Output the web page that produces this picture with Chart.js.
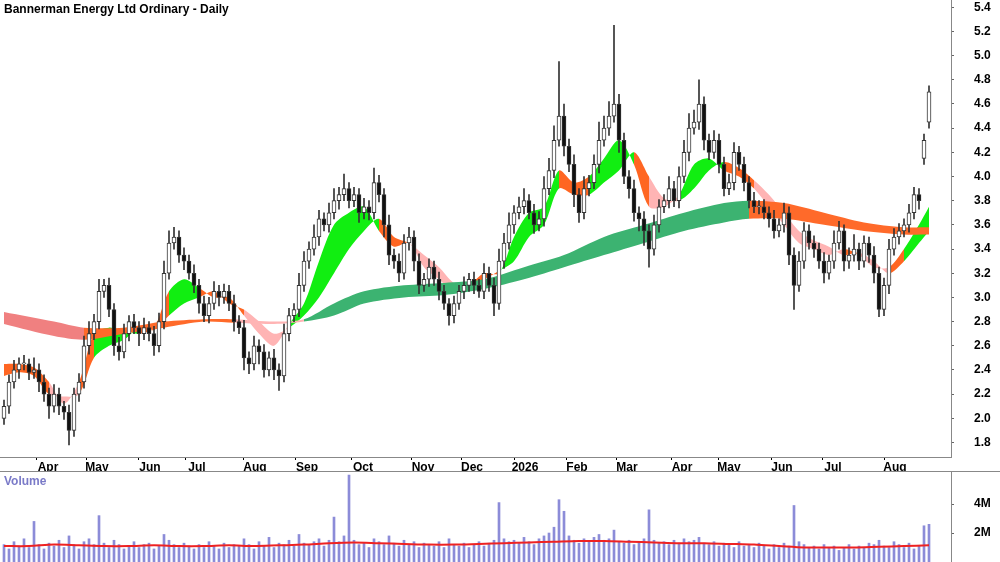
<!DOCTYPE html>
<html><head><meta charset="utf-8">
<script src="https://cdn.jsdelivr.net/npm/chart.js@4.4.1/dist/chart.umd.min.js"></script>
<style>
body{margin:0;background:#fff;width:1000px;height:562px;overflow:hidden;position:relative;font-family:Arial,"Liberation Sans",sans-serif}
#pc{position:absolute;left:0;top:0}
#vc{position:absolute;left:0;top:471px}
#title{position:absolute;left:4px;top:2px;font-weight:bold;font-size:12px;color:#000}
#vt{position:absolute;left:4px;top:474px;font-weight:bold;font-size:12px;color:#7a7ac8}
#hl{position:absolute;left:0;top:471px;width:1000px;height:1px;background:#888}
</style></head><body>
<canvas id="pc" width="1000" height="471"></canvas>
<canvas id="vc" width="1000" height="91"></canvas>
<div id="hl"></div>
<div id="title">Bannerman Energy Ltd Ordinary - Daily</div>
<div id="vt">Volume</div>
<script>
const closes=[2.1,2.3,2.4,2.45,2.45,2.38,2.4,2.3,2.2,2.1,2.2,2.1,2.05,1.9,2.2,2.3,2.6,2.7,2.8,3.05,
3.1,2.9,2.6,2.55,2.7,2.8,2.75,2.7,2.75,2.7,2.6,2.8,3.2,3.45,3.5,3.35,3.3,3.2,3.1,2.95,
2.85,2.95,3.05,3.0,3.05,2.95,2.8,2.75,2.5,2.45,2.6,2.55,2.4,2.5,2.4,2.35,2.7,2.85,2.9,3.1,
3.3,3.4,3.5,3.65,3.6,3.7,3.8,3.85,3.9,3.8,3.85,3.7,3.75,3.7,3.95,3.85,3.6,3.35,3.3,3.2,
3.45,3.5,3.3,3.1,3.15,3.25,3.15,3.05,2.95,2.85,2.95,3.05,3.1,3.15,3.1,3.05,3.2,3.1,2.95,3.3,
3.45,3.6,3.7,3.75,3.8,3.7,3.6,3.65,3.9,4.05,4.3,4.5,4.25,4.1,3.85,3.7,3.9,3.95,4.1,4.3,
4.4,4.5,4.6,4.3,4.0,3.9,3.7,3.65,3.55,3.4,3.6,3.75,3.8,3.9,3.8,4.0,4.2,4.4,4.45,4.6,
4.3,4.2,4.3,4.1,3.9,3.95,4.2,4.1,3.95,3.8,3.75,3.75,3.7,3.65,3.55,3.6,3.7,3.35,3.1,3.3,
3.55,3.45,3.4,3.3,3.2,3.3,3.45,3.55,3.3,3.35,3.4,3.3,3.45,3.35,3.2,2.9,3.1,3.4,3.5,3.55,
3.6,3.7,3.85,3.8,4.3,4.7];
const opens=[2.0,2.1,2.3,2.4,2.45,2.45,2.38,2.4,2.3,2.2,2.1,2.2,2.1,2.05,1.9,2.2,2.3,2.6,2.7,2.8,
3.05,3.1,2.9,2.6,2.55,2.7,2.8,2.75,2.7,2.75,2.7,2.6,2.8,3.2,3.45,3.5,3.35,3.3,3.2,3.1,
2.95,2.85,2.95,3.05,3.0,3.05,2.95,2.8,2.75,2.5,2.45,2.6,2.55,2.4,2.5,2.4,2.35,2.7,2.85,2.9,
3.1,3.3,3.4,3.5,3.65,3.6,3.7,3.8,3.85,3.9,3.8,3.85,3.7,3.75,3.7,3.95,3.85,3.6,3.35,3.3,
3.2,3.45,3.5,3.3,3.1,3.15,3.25,3.15,3.05,2.95,2.85,2.95,3.05,3.1,3.15,3.1,3.05,3.2,3.1,2.95,
3.3,3.45,3.6,3.7,3.75,3.8,3.7,3.6,3.65,3.9,4.05,4.3,4.5,4.25,4.1,3.85,3.7,3.9,3.95,4.1,
4.3,4.4,4.5,4.6,4.3,4.0,3.9,3.7,3.65,3.55,3.4,3.6,3.75,3.8,3.9,3.8,4.0,4.2,4.4,4.45,
4.6,4.3,4.2,4.3,4.1,3.9,3.95,4.2,4.1,3.95,3.8,3.75,3.75,3.7,3.65,3.55,3.6,3.7,3.35,3.1,
3.3,3.55,3.45,3.4,3.3,3.2,3.3,3.45,3.55,3.3,3.35,3.4,3.3,3.45,3.35,3.2,2.9,3.1,3.4,3.5,
3.55,3.6,3.7,3.85,4.15,4.45];
const wickUp=[0.05,0.06,0.08,0.05,0.07,0.04,0.1,0.05,0.06,0.05,0.08,0.05,0.04,0.06,0.05,0.07,0.08,0.1,0.06,0.1,
0.05,0.06,0.05,0.07,0.08,0.05,0.06,0.05,0.08,0.05,0.06,0.07,0.1,0.1,0.08,0.05,0.06,0.05,0.07,0.05,
0.06,0.05,0.08,0.05,0.06,0.05,0.07,0.05,0.06,0.05,0.08,0.05,0.06,0.05,0.07,0.05,0.08,0.06,0.05,0.1,
0.08,0.06,0.1,0.07,0.05,0.08,0.1,0.06,0.12,0.05,0.06,0.05,0.07,0.05,0.12,0.06,0.05,0.08,0.05,0.06,
0.07,0.08,0.05,0.06,0.05,0.07,0.05,0.06,0.05,0.04,0.06,0.05,0.07,0.05,0.06,0.05,0.08,0.05,0.06,0.1,
0.08,0.1,0.06,0.08,0.1,0.05,0.07,0.06,0.1,0.1,0.12,0.45,0.1,0.06,0.08,0.05,0.1,0.06,0.08,0.15,
0.1,0.12,0.65,0.08,0.06,0.05,0.07,0.05,0.06,0.05,0.08,0.06,0.05,0.1,0.06,0.08,0.1,0.12,0.1,0.2,
0.06,0.05,0.08,0.05,0.06,0.07,0.08,0.05,0.06,0.05,0.07,0.05,0.06,0.05,0.07,0.05,0.08,0.05,0.06,0.08,
0.07,0.05,0.06,0.05,0.07,0.05,0.1,0.08,0.05,0.06,0.12,0.05,0.06,0.05,0.07,0.05,0.06,0.08,0.07,0.06,
0.05,0.07,0.06,0.05,0.05,0.05];
const wickDn=[0.05,0.06,0.05,0.07,0.05,0.06,0.05,0.08,0.06,0.1,0.05,0.07,0.06,0.12,0.05,0.06,0.05,0.07,0.05,0.06,
0.05,0.06,0.08,0.07,0.05,0.06,0.05,0.1,0.05,0.06,0.08,0.05,0.06,0.05,0.05,0.06,0.07,0.05,0.06,0.08,
0.05,0.06,0.05,0.07,0.05,0.06,0.08,0.05,0.1,0.08,0.05,0.1,0.06,0.05,0.08,0.12,0.05,0.06,0.05,0.06,
0.05,0.06,0.05,0.07,0.05,0.06,0.05,0.07,0.05,0.06,0.05,0.08,0.05,0.06,0.05,0.06,0.1,0.08,0.06,0.07,
0.05,0.06,0.08,0.07,0.05,0.06,0.05,0.07,0.05,0.08,0.06,0.05,0.06,0.05,0.07,0.05,0.06,0.05,0.1,0.05,
0.06,0.05,0.07,0.05,0.06,0.05,0.07,0.05,0.06,0.05,0.06,0.05,0.08,0.06,0.1,0.08,0.05,0.06,0.05,0.07,
0.05,0.06,0.05,0.1,0.06,0.08,0.07,0.1,0.12,0.15,0.05,0.06,0.05,0.06,0.05,0.06,0.05,0.07,0.05,0.06,
0.08,0.06,0.05,0.07,0.06,0.05,0.06,0.05,0.07,0.06,0.05,0.06,0.05,0.07,0.06,0.05,0.06,0.08,0.2,0.05,
0.06,0.05,0.07,0.06,0.08,0.05,0.06,0.05,0.08,0.06,0.05,0.07,0.05,0.06,0.08,0.06,0.05,0.07,0.05,0.06,
0.05,0.06,0.05,0.07,0.05,0.05];
const volumes=[1.2,0.9,1.4,1.1,1.6,1.0,2.8,1.2,0.9,1.3,1.1,1.5,1.0,1.8,1.2,0.9,1.4,1.6,1.2,3.2,
1.3,1.0,1.5,1.2,0.9,1.1,1.4,1.0,1.2,1.3,0.9,1.1,1.9,1.5,1.2,1.0,1.3,1.1,0.9,1.2,
1.0,1.4,1.1,0.9,1.3,1.0,1.2,1.1,1.6,1.2,0.9,1.4,1.1,1.7,1.0,1.3,1.2,1.5,1.1,1.9,
1.3,1.2,1.4,1.6,1.1,1.5,3.1,1.4,1.8,6.0,1.5,1.2,1.3,1.0,1.6,1.4,1.2,1.8,1.3,1.1,
1.5,1.2,1.4,1.0,1.3,1.2,1.1,1.4,1.0,1.6,1.2,1.1,1.3,1.0,1.2,1.4,1.1,1.3,1.5,4.1,
1.6,1.4,1.5,1.3,1.7,1.4,1.2,1.6,1.8,2.0,2.4,4.3,3.5,1.8,1.5,1.3,1.6,1.4,1.7,1.9,
1.5,1.6,2.2,1.4,1.3,1.5,1.2,1.4,1.6,3.6,1.5,1.3,1.4,1.2,1.5,1.3,1.6,1.4,1.5,1.7,
1.3,1.2,1.4,1.1,1.3,1.2,1.0,1.4,1.1,1.2,1.0,1.3,1.1,0.9,1.2,1.0,1.3,1.1,3.9,1.4,
1.2,1.0,1.1,0.9,1.2,1.0,1.1,0.8,1.0,1.2,0.9,1.1,1.0,1.3,1.2,1.5,1.1,1.0,1.4,1.2,
1.0,1.3,0.9,1.1,2.5,2.6];
const volMaIdx=[0,5,10,15,20,25,30,35,40,45,50,55,60,65,70,75,80,85,90,95,100,105,110,115,120,125,130,135,140,145,150,155,160,165,170,175,180,185];
const volMa=[1.1,1.1,1.2,1.15,1.1,1.1,1.15,1.1,1.1,1.15,1.1,1.15,1.2,1.3,1.35,1.3,1.25,1.2,1.2,1.25,1.3,1.35,1.4,1.45,1.45,1.4,1.35,1.3,1.3,1.25,1.2,1.1,1.0,1.0,1.0,1.05,1.1,1.15];
const shortIdx=[0,3,6,9,12,15,18,21,24,27,30,33,36,39,42,45,48,51,54,57,60,63,66,69,72,75,78,81,84,87,90,93,96,99,102,105,108,111,114,117,120,123,126,129,132,135,138,141,144,147,150,153,156,159,162,165,168,171,174,177,180,183,185];
const shortFast=[2.45,2.45,2.42,2.3,2.12,2.3,2.7,2.75,2.72,2.7,2.75,3.05,3.15,3.08,3.0,3.0,2.85,2.7,2.6,2.78,2.95,3.3,3.6,3.7,3.75,3.55,3.42,3.45,3.25,3.15,3.05,3.1,3.2,3.2,3.5,3.7,3.75,4.05,3.95,4.0,4.15,4.3,4.1,3.75,3.75,3.85,4.1,4.15,4.05,4.0,3.9,3.75,3.6,3.45,3.4,3.35,3.4,3.35,3.25,3.25,3.4,3.6,3.75];
const shortSlow=[2.35,2.38,2.35,2.2,2.18,2.2,2.5,2.6,2.65,2.75,2.73,2.85,2.95,3.0,3.05,2.95,2.9,2.8,2.7,2.75,2.85,3.0,3.2,3.4,3.55,3.65,3.5,3.45,3.35,3.25,3.12,3.1,3.15,3.22,3.3,3.5,3.6,3.9,3.85,3.85,3.95,4.05,4.2,4.0,3.82,3.8,3.9,4.05,4.12,4.07,3.97,3.85,3.7,3.55,3.47,3.42,3.35,3.37,3.3,3.2,3.3,3.45,3.55];
const shortState=['o','o','o','p','p','o','g','g','g','o','o','g','g','o','o','o','p','p','p','g','g','g','g','g','g','o','o','p','p','p','o','o','o','g','g','g','g','o','o','g','g','g','o','p','p','g','g','g','o','o','p','p','p','p','p','p','o','p','p','o','g','g','g'];
const longIdx=[0,10,16,24,32,40,46,54,60,66,72,80,88,96,104,112,120,128,136,144,149,156,164,172,180,185];
const longA=[2.88,2.8,2.75,2.75,2.8,2.82,2.82,2.8,2.82,2.95,3.05,3.1,3.12,3.15,3.25,3.35,3.5,3.6,3.7,3.78,3.8,3.78,3.7,3.62,3.58,3.58];
const longB=[2.78,2.68,2.65,2.7,2.75,2.8,2.79,2.78,2.8,2.85,2.95,3.0,3.02,3.07,3.15,3.25,3.35,3.45,3.55,3.62,3.65,3.65,3.6,3.55,3.52,3.52];
const longState=['r','r','o','o','o','o','p','p','g','g','g','g','g','g','g','g','g','g','g','g','o','o','o','o','o','g'];
const monthIdx=[6.6,16.4,27,36.4,48,58.4,69.6,81.6,91.4,102,112.4,122.4,133.4,142.8,153.4,163.6,176];
const monthNames=['Apr','May','Jun','Jul','Aug','Sep','Oct','Nov','Dec','2026','Feb','Mar','Apr','May','Jun','Jul','Aug'];
const priceTicks=[1.8,2.0,2.2,2.4,2.6,2.8,3.0,3.2,3.4,3.6,3.8,4.0,4.2,4.4,4.6,4.8,5.0,5.2,5.4];

const shortCol={g:'#11ee11',o:'#ff6622',p:'#ffb4b4'};
const longCol={r:'#f08080',o:'#ff6a2a',p:'#ffb4b4',g:'#3cb371'};
const N=closes.length;
const idx=[...Array(N).keys()];
const font={family:'Arial',size:12,weight:'bold'};
function noPad(s){s.paddingTop=0;s.paddingBottom=0;s.paddingLeft=0;s.paddingRight=0;}
function ribbon(ix,a,b,st,cmap){
  const segFn=ctx=>cmap[st[ctx.p0DataIndex]];
  return [
    {type:'line',data:ix.map((x,i)=>({x,y:a[i]})),borderWidth:0,pointRadius:0,fill:false,order:10,tension:0.3},
    {type:'line',data:ix.map((x,i)=>({x,y:b[i]})),borderWidth:0,pointRadius:0,fill:'-1',order:10,tension:0.3,
      backgroundColor:cmap.g,segment:{backgroundColor:segFn}}
  ];
}
const ds=[
  ...ribbon(longIdx,longA,longB,longState,longCol),
  ...ribbon(shortIdx,shortFast,shortSlow,shortState,shortCol),
  {type:'bar',data:idx.map(i=>({x:i,y:[Math.min(opens[i],closes[i])-wickDn[i],Math.max(opens[i],closes[i])+wickUp[i]]})),
    backgroundColor:'#333',barThickness:1,grouped:false,order:2},
  {type:'bar',data:idx.map(i=>({x:i,y:[opens[i],closes[i]]})),
    backgroundColor:idx.map(i=>closes[i]>=opens[i]?'#fff':'#111'),borderColor:'#333',borderWidth:1,borderSkipped:false,
    barThickness:4,minBarLength:1,grouped:false,order:1}
];
new Chart(document.getElementById('pc'),{
  type:'bar',data:{datasets:ds},
  options:{responsive:false,animation:false,devicePixelRatio:1,
    layout:{padding:0},
    plugins:{legend:{display:false},tooltip:{enabled:false}},
    scales:{
      x:{type:'linear',min:-0.8,max:189.4,offset:false,
        afterBuildTicks:s=>{s.ticks=monthIdx.map(v=>({value:v}));},
        afterFit:s=>{s.height=14;noPad(s);},
        ticks:{autoSkip:false,maxRotation:0,padding:0,labelOffset:11,color:'#000',font,
          callback:(v,i)=>monthNames[i]},
        grid:{drawOnChartArea:false,tickLength:3,color:'#000',offset:false},border:{color:'#888'}},
      y:{position:'right',min:1.68,max:5.46,
        afterBuildTicks:s=>{s.ticks=priceTicks.map(v=>({value:v}));},
        afterFit:s=>{s.width=49;noPad(s);},
        ticks:{color:'#000',font,padding:20,callback:v=>v.toFixed(1)},
        grid:{drawOnChartArea:false,tickLength:3,color:'#666'},border:{color:'#888'}}
    }}
});
new Chart(document.getElementById('vc'),{
  type:'bar',
  data:{datasets:[
    {type:'line',data:volMaIdx.map((x,i)=>({x,y:volMa[i]})),borderColor:'#ee2222',borderWidth:2,pointRadius:0,order:0,tension:0.3},
    {type:'bar',data:idx.map(i=>({x:i,y:volumes[i]})),backgroundColor:'#8c8cd8',barThickness:2,order:1}
  ]},
  options:{responsive:false,animation:false,devicePixelRatio:1,layout:{padding:0},
    plugins:{legend:{display:false},tooltip:{enabled:false}},
    scales:{
      x:{type:'linear',min:-0.8,max:189.4,offset:false,display:false},
      y:{position:'right',min:0,max:6.28,
        afterBuildTicks:s=>{s.ticks=[2,4].map(v=>({value:v}));},
        afterFit:s=>{s.width=49;noPad(s);},
        ticks:{color:'#000',font,padding:20,callback:v=>v+'M'},
        grid:{drawOnChartArea:false,tickLength:3,color:'#666'},border:{color:'#888'}}
    }}
});
</script></body></html>
